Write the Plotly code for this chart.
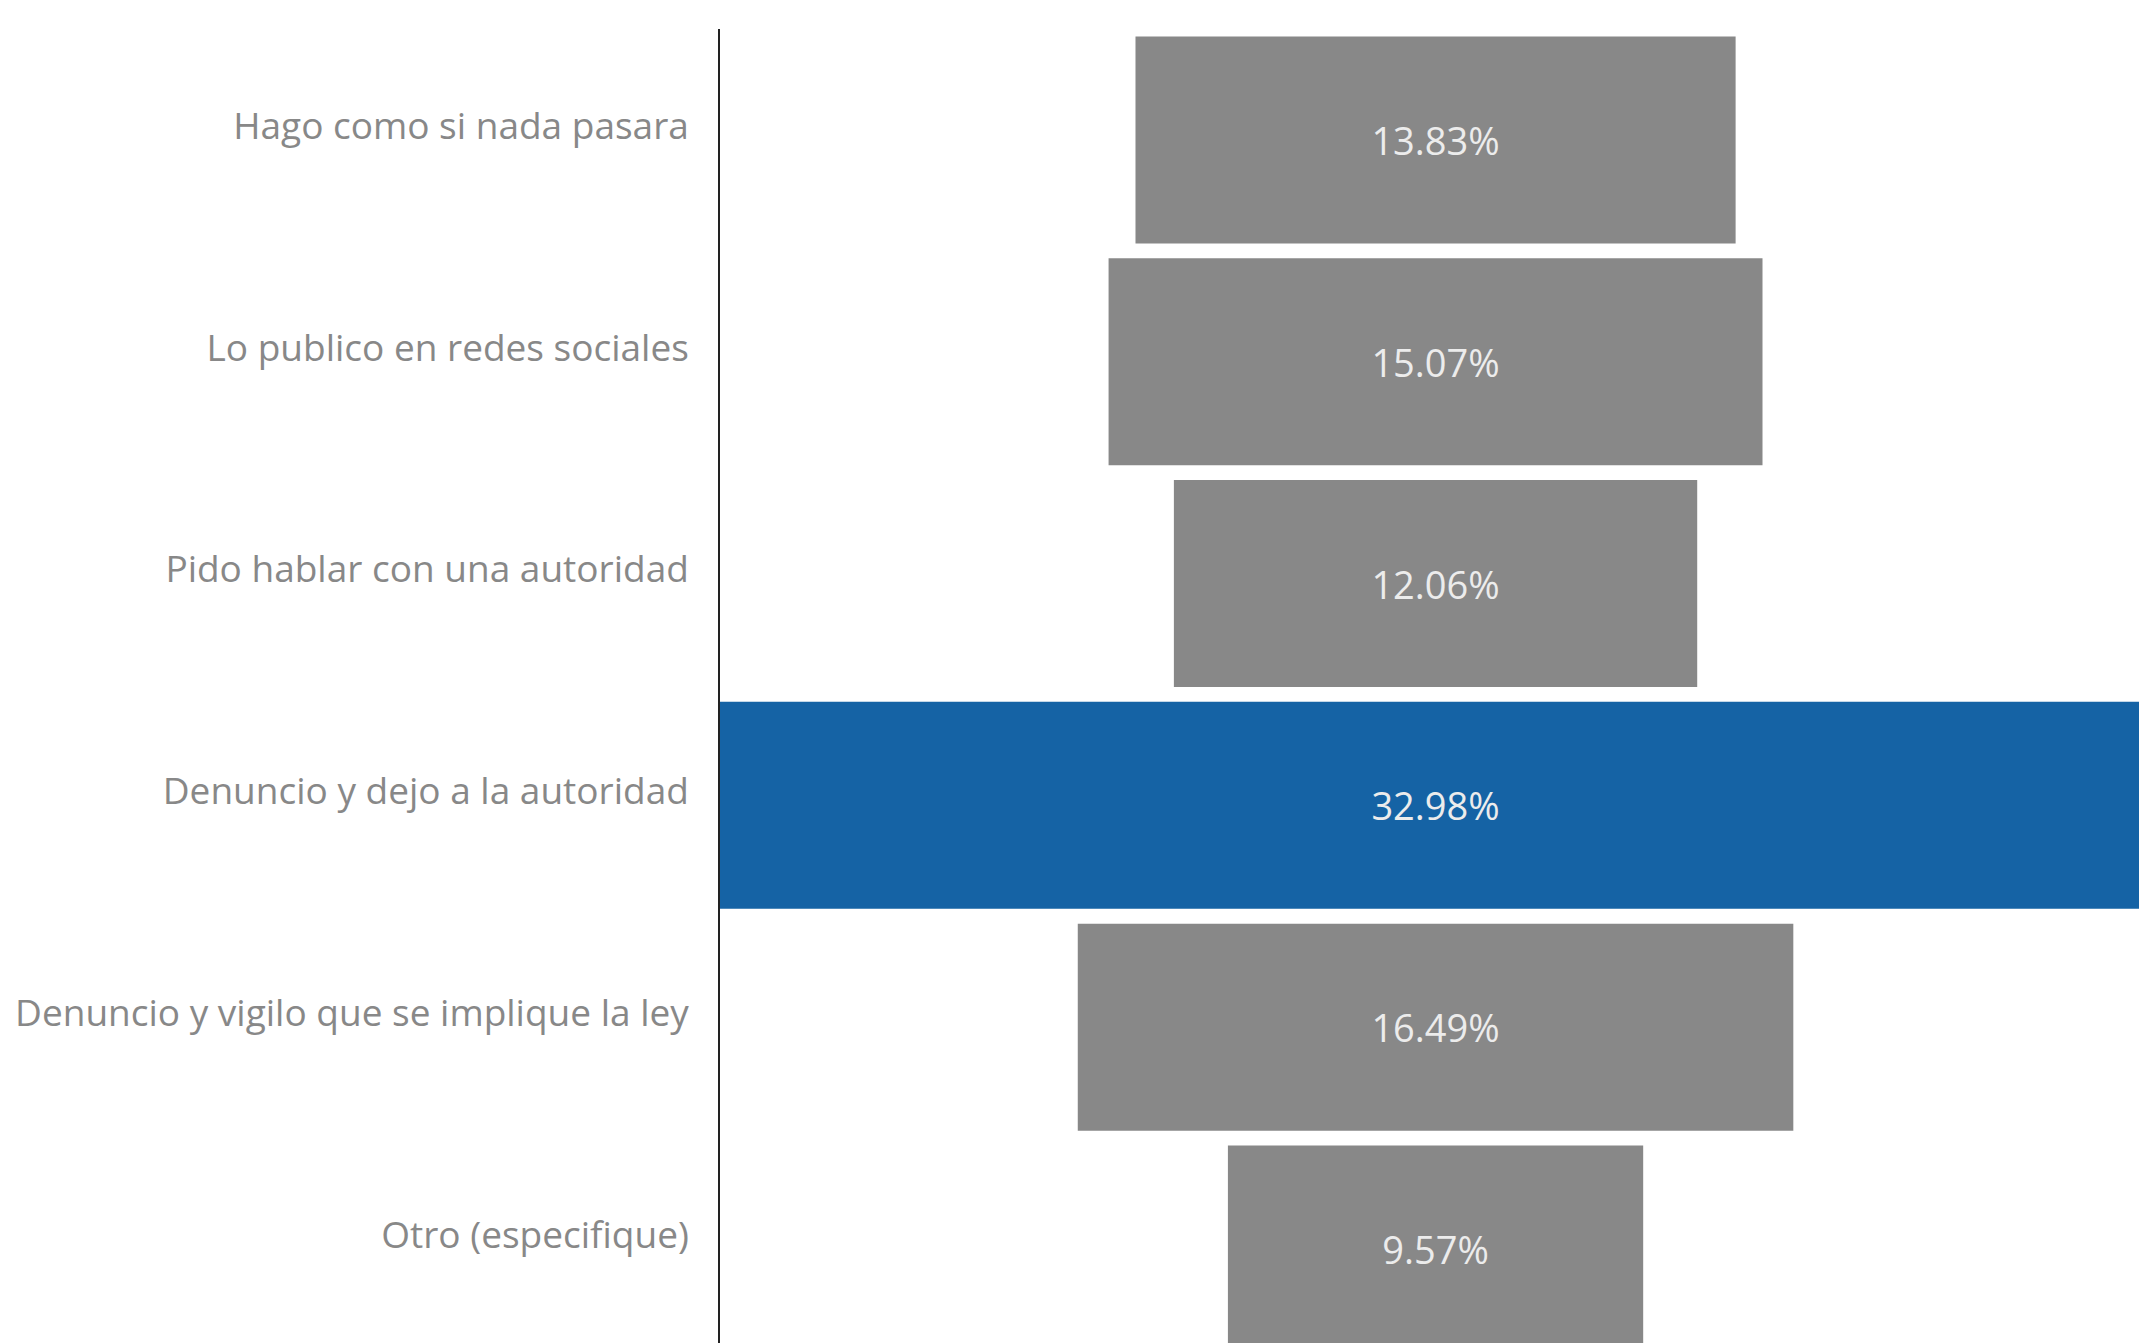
import plotly.graph_objects as go

# respuestas y porcentajes
categorias = [
    "Hago como si nada pasara",
    "Lo publico en redes sociales",
    "Pido hablar con una autoridad",
    "Denuncio y dejo a la autoridad",
    "Denuncio y vigilo que se implique la ley",
    "Otro (especifique)",
]
porcentajes = [13.83, 15.07, 12.06, 32.98, 16.49, 9.57]
destacada = "Denuncio y dejo a la autoridad"

GRIS = "#888888"
AZUL = "#1563a5"
colores = [AZUL if c == destacada else GRIS for c in categorias]

fig = go.Figure(
    go.Funnel(
        y=categorias,
        x=porcentajes,
        marker=dict(color=colores),
        connector=dict(visible=False),
        texttemplate="%{x:.2f}%",
        textposition="inside",
        insidetextanchor="middle",
        textfont=dict(color="#ececec", size=38, family="Open Sans"),
        hoverinfo="y+x",
    )
)

# el body de la pagina agrega 8px, por eso l=712 y t=21
fig.update_layout(
    width=2147,
    height=1343,
    margin=dict(l=712, r=0, t=21, b=0),
    paper_bgcolor="white",
    plot_bgcolor="white",
    showlegend=False,
    funnelgap=0.067,
    font=dict(family="Open Sans", color="#888888", size=37),
)
fig.update_xaxes(
    visible=False,
    range=[-16.49, 16.58],
)
fig.update_yaxes(
    range=[5.46, -0.5],
    showline=True,
    linecolor="#222222",
    linewidth=1.5,
    showgrid=False,
    ticks="",
    ticklabelstandoff=22,
    ticklabelshift=14,
    tickfont=dict(size=37, color="#888888"),
    automargin=False,
)

fig.write_html("out.html")
